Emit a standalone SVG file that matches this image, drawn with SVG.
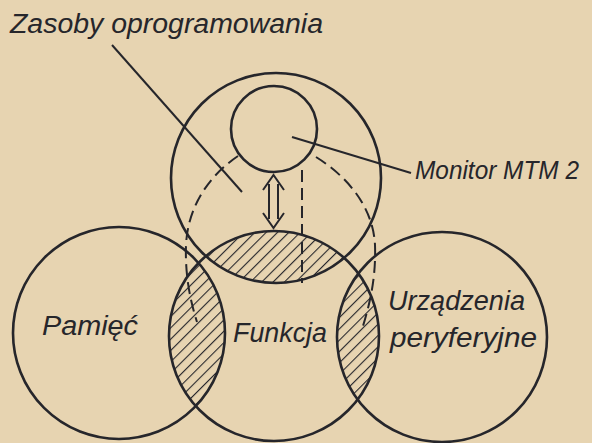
<svg xmlns="http://www.w3.org/2000/svg" width="592" height="443" viewBox="0 0 592 443">
<style>
.c{fill:none;stroke:#26262b;stroke-width:2.6}
.d{fill:none;stroke:#26262b;stroke-width:2;stroke-dasharray:12 6}
.l{fill:none;stroke:#26262b;stroke-width:2}
.t{font-family:"Liberation Sans",Arial,sans-serif;font-style:italic;font-size:27px;fill:#26262b}
</style>
<defs>
<pattern id="hatch" width="8" height="8" patternUnits="userSpaceOnUse" patternTransform="rotate(45)">
<line x1="0" y1="0" x2="0" y2="8" stroke="#26262b" stroke-width="2.2"/>
</pattern>
<clipPath id="clipMid"><circle cx="274" cy="336" r="105"/></clipPath>
<clipPath id="clipTop"><circle cx="276" cy="178" r="105"/></clipPath>
</defs>
<rect width="592" height="443" fill="#e7d4b1"/>
<g id="hatching">
<circle cx="274" cy="336" r="105" fill="url(#hatch)" clip-path="url(#clipTop)"/>
<circle cx="119" cy="333" r="106" fill="url(#hatch)" clip-path="url(#clipMid)"/>
<circle cx="442" cy="337" r="105" fill="url(#hatch)" clip-path="url(#clipMid)"/>
</g>
<g id="software"><circle class="c" cx="276" cy="178" r="105"/></g>
<g id="monitor"><circle class="c" cx="274" cy="129" r="43"/></g>
<g id="memory"><circle class="c" cx="119" cy="333" r="106"/><text class="t" x="42" y="335" textLength="96" lengthAdjust="spacingAndGlyphs">Pamięć</text></g>
<g id="function"><circle class="c" cx="274" cy="336" r="105"/><text class="t" x="233" y="342" textLength="94" lengthAdjust="spacingAndGlyphs">Funkcja</text></g>
<g id="peripherals"><circle class="c" cx="442" cy="337" r="105"/><text class="t" x="388" y="310" textLength="137" lengthAdjust="spacingAndGlyphs">Urządzenia</text><text class="t" x="390" y="347" textLength="147" lengthAdjust="spacingAndGlyphs">peryferyjne</text></g>
<g id="labels">
<text class="t" x="10" y="33" textLength="313" lengthAdjust="spacingAndGlyphs">Zasoby oprogramowania</text>
<text class="t" x="415" y="179" style="font-size:25px" textLength="164" lengthAdjust="spacingAndGlyphs">Monitor MTM 2</text>
</g>
<g id="connectors">
<line class="l" x1="112" y1="45" x2="242" y2="192"/>
<line class="l" x1="292" y1="137" x2="411" y2="173"/>
<path class="d" d="M238,156 C210,175 188,205 186,245 C185,275 190,300 197,322"/>
<path class="d" d="M316,157 C345,175 373,205 375,245 C376,275 371,300 363,326"/>
<line class="d" x1="302" y1="170" x2="302" y2="283"/>
<path class="l" d="M269,184 V219 M278,184 V219 M263,190 L273.5,175 L284,190 M263,213 L273.5,228 L284,213"/>
</g>
</svg>
